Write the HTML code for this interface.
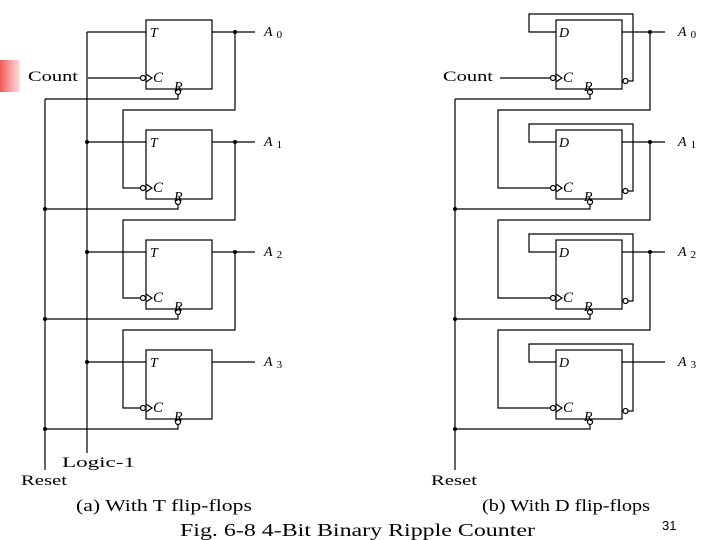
<!DOCTYPE html>
<html><head><meta charset="utf-8"><style>
html,body{margin:0;padding:0;background:#fff;}
svg{display:block;font-family:"Liberation Serif",serif;}
</style></head><body>
<svg width="720" height="540" viewBox="0 0 720 540" xmlns="http://www.w3.org/2000/svg">
<defs>
<linearGradient id="rg" x1="0" x2="1" y1="0" y2="0"><stop offset="0" stop-color="#f25a5a"/><stop offset="1" stop-color="#fde0e0"/></linearGradient>
</defs>
<rect x="0" y="60" width="20" height="32" fill="url(#rg)"/>
<g stroke="#000" stroke-width="1.2" fill="none">
<line x1="87" y1="32" x2="87" y2="453"/>
<line x1="45" y1="99" x2="45" y2="470"/>
<line x1="88" y1="78" x2="140" y2="78"/>
<line x1="455" y1="99" x2="455" y2="470"/>
<line x1="500" y1="78" x2="550" y2="78"/>
</g>
<g fill="#000">
<circle cx="87" cy="142" r="2"/><circle cx="87" cy="252" r="2"/><circle cx="87" cy="362" r="2"/>
<circle cx="45" cy="209" r="2"/><circle cx="45" cy="319" r="2"/><circle cx="45" cy="429" r="2"/>
<circle cx="455" cy="209" r="2"/><circle cx="455" cy="319" r="2"/><circle cx="455" cy="429" r="2"/>
</g>

<g id="t0">
<g stroke="#000" stroke-width="1.2" fill="none">
<rect x="146" y="20" width="66" height="69"/>
<path d="M146,74 L152,78 L146,82"/>
<circle cx="143" cy="78" r="2.5"/>
<circle cx="178" cy="92" r="2.5"/>
<path d="M178,94.5 L178,99 L45,99"/>
<line x1="87" y1="32" x2="146" y2="32"/>
<line x1="212" y1="32" x2="255" y2="32"/>
</g>
<text x="150" y="37" font-size="14" font-style="italic">T</text>
<text x="153" y="82" font-size="15" font-style="italic">C</text>
<text x="174" y="91" font-size="14" font-style="italic">R</text>
</g>
<use href="#t0" y="110"/><use href="#t0" y="220"/><use href="#t0" y="330"/>
<g stroke="#000" stroke-width="1.2" fill="none">
<path d="M235,32 L235,110 L123,110 L123,188 L140,188"/>
<path d="M235,142 L235,220 L123,220 L123,298 L140,298"/>
<path d="M235,252 L235,330 L123,330 L123,408 L140,408"/>
</g>
<g fill="#000"><circle cx="235" cy="32" r="2"/><circle cx="235" cy="142" r="2"/><circle cx="235" cy="252" r="2"/></g>

<g id="d0">
<g stroke="#000" stroke-width="1.2" fill="none">
<rect x="556" y="20" width="66" height="69"/>
<path d="M556,74 L562,78 L556,82"/>
<circle cx="553" cy="78" r="2.5"/>
<circle cx="590" cy="92" r="2.5"/>
<path d="M590,94.5 L590,99 L455,99"/>
<path d="M556,32 L529,32 L529,14 L633,14 L633,81 L628,81"/>
<circle cx="625.5" cy="81" r="2.5"/>
<line x1="622" y1="32" x2="665" y2="32"/>
</g>
<text x="559" y="37" font-size="14" font-style="italic">D</text>
<text x="563" y="82" font-size="15" font-style="italic">C</text>
<text x="584" y="91" font-size="14" font-style="italic">R</text>
</g>
<use href="#d0" y="110"/><use href="#d0" y="220"/><use href="#d0" y="330"/>
<g stroke="#000" stroke-width="1.2" fill="none">
<path d="M650,32 L650,110 L498,110 L498,188 L550,188"/>
<path d="M650,142 L650,220 L498,220 L498,298 L550,298"/>
<path d="M650,252 L650,330 L498,330 L498,408 L550,408"/>
</g>
<g fill="#000"><circle cx="650" cy="32" r="2"/><circle cx="650" cy="142" r="2"/><circle cx="650" cy="252" r="2"/></g>

<g font-size="14" font-style="italic">
<text x="264" y="36">A<tspan font-size="11" font-style="normal" dx="4" dy="2">0</tspan></text>
<text x="264" y="146">A<tspan font-size="11" font-style="normal" dx="4" dy="2">1</tspan></text>
<text x="264" y="256">A<tspan font-size="11" font-style="normal" dx="4" dy="2">2</tspan></text>
<text x="264" y="366">A<tspan font-size="11" font-style="normal" dx="4" dy="2">3</tspan></text>
<text x="678" y="36">A<tspan font-size="11" font-style="normal" dx="4" dy="2">0</tspan></text>
<text x="678" y="146">A<tspan font-size="11" font-style="normal" dx="4" dy="2">1</tspan></text>
<text x="678" y="256">A<tspan font-size="11" font-style="normal" dx="4" dy="2">2</tspan></text>
<text x="678" y="366">A<tspan font-size="11" font-style="normal" dx="4" dy="2">3</tspan></text>
</g>
<g font-size="15" lengthAdjust="spacingAndGlyphs">
<text x="28" y="81" textLength="50" lengthAdjust="spacingAndGlyphs">Count</text>
<text x="443" y="81" textLength="50" lengthAdjust="spacingAndGlyphs">Count</text>
<text x="62" y="467" textLength="73" lengthAdjust="spacingAndGlyphs">Logic-1</text>
<text x="21" y="485" textLength="46" lengthAdjust="spacingAndGlyphs">Reset</text>
<text x="431" y="485" textLength="46" lengthAdjust="spacingAndGlyphs">Reset</text>
</g>
<g font-size="17">
<text x="76" y="511" textLength="176" lengthAdjust="spacingAndGlyphs">(a) With T flip-flops</text>
<text x="482" y="511" textLength="168" lengthAdjust="spacingAndGlyphs">(b) With D flip-flops</text>
<text x="180" y="536" font-size="18" textLength="355" lengthAdjust="spacingAndGlyphs">Fig. 6-8  4-Bit Binary Ripple Counter</text>
</g>
<text x="662" y="530" font-size="13" font-family="Liberation Sans, sans-serif">31</text>
</svg>
</body></html>
